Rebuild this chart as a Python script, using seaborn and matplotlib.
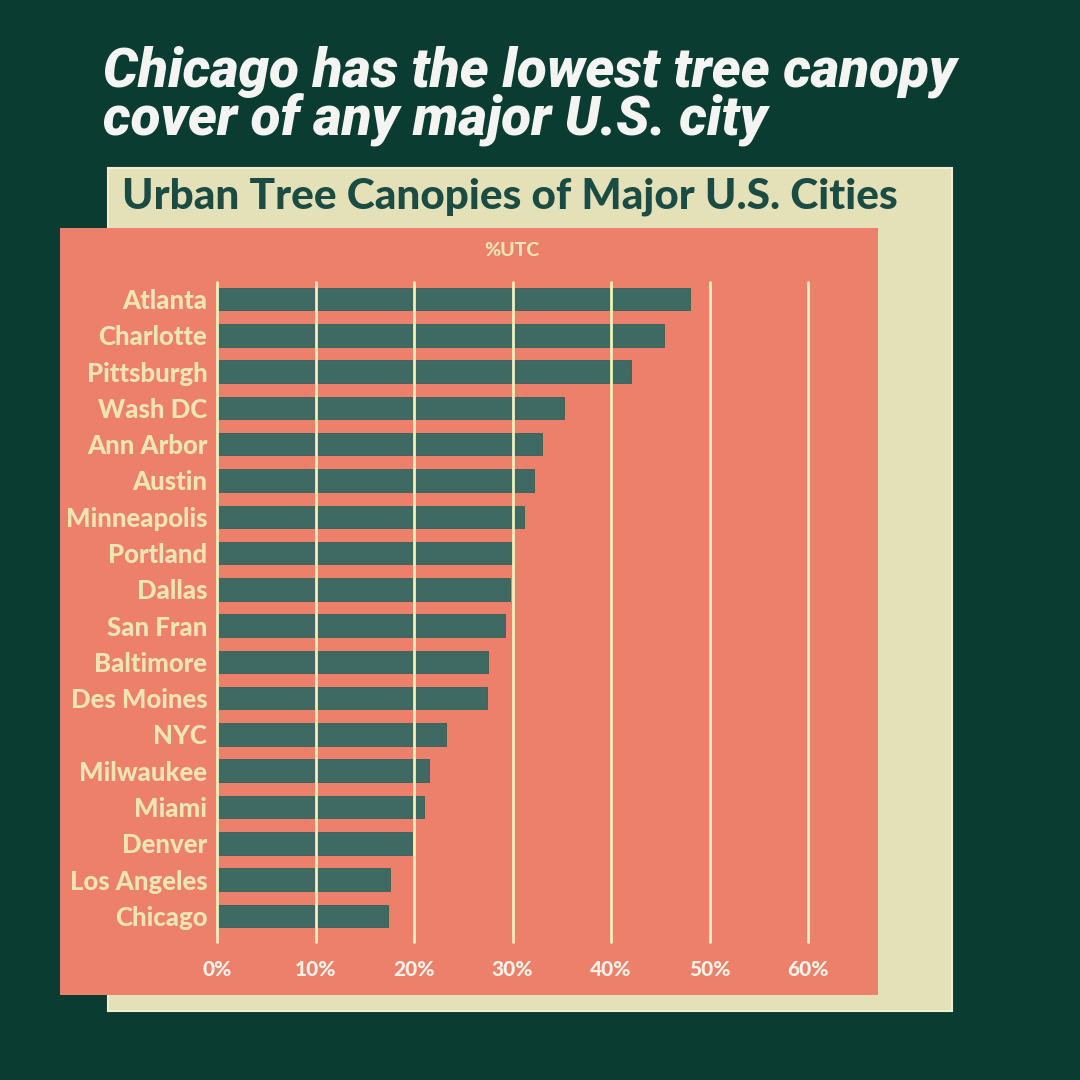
import matplotlib
matplotlib.use("Agg")
import matplotlib.pyplot as plt
from matplotlib.patches import Rectangle
import seaborn as sns
import pandas as pd

cities = ["Atlanta", "Charlotte", "Pittsburgh", "Wash DC", "Ann Arbor", "Austin",
          "Minneapolis", "Portland", "Dallas", "San Fran", "Baltimore", "Des Moines",
          "NYC", "Milwaukee", "Miami", "Denver", "Los Angeles", "Chicago"]
utc = [48.0, 45.4, 42.0, 35.2, 33.0, 32.2, 31.2, 30.0, 29.7, 29.2, 27.5, 27.4,
       23.2, 21.5, 21.0, 19.8, 17.6, 17.4]
x_ticks = [0, 10, 20, 30, 40, 50, 60]
x_tick_labels = ["0%", "10%", "20%", "30%", "40%", "50%", "60%"]

title = "Chicago has the lowest tree canopy\ncover of any major U.S. city"
subtitle = "Urban Tree Canopies of Major U.S. Cities"
axis_label = "%UTC"

BG = "#0b3c32"
CREAM = "#e4e1b8"
SALMON = "#ec806a"
BAR = "#3f6a63"
GRID = "#f3efba"
LABEL = "#ede6b4"
SUB = "#1b4c44"

sns.set_theme(style="white")
plt.rcParams["font.family"] = ["Lato", "DejaVu Sans"]

df = pd.DataFrame({"city": cities, "utc": utc})

W = H = 1080
fig = plt.figure(figsize=(10.8, 10.8), dpi=100, facecolor=BG)

def frect(x0, y0, x1, y1, color, z, ec="none", lw=0):
    fig.patches.append(Rectangle((x0 / W, 1 - y1 / H), (x1 - x0) / W, (y1 - y0) / H,
                                 transform=fig.transFigure, facecolor=color,
                                 edgecolor=ec, linewidth=lw, zorder=z))

frect(108, 168, 952, 1011, CREAM, 0, ec="#f2efd0", lw=1.5)
frect(60, 228, 878, 995, SALMON, 1)

ax = fig.add_axes([217 / W, 1 - 942 / H, (808 - 217) / W, (942 - 282) / H])
ax.set_facecolor("none")
ax.set_zorder(2)

sns.barplot(data=df, y="city", x="utc", orient="h", color=BAR, width=0.62,
            saturation=1, ax=ax, zorder=3)
for p in ax.patches:
    p.set_edgecolor("#35605a")
    p.set_linewidth(0.6)

ax.set_xlim(0, 60)
ax.set_ylim(len(cities) - 0.28, -0.47)
for xv in x_ticks:
    ax.axvline(xv, color=GRID, lw=2, zorder=4 if xv < 50 else 2, clip_on=False)
for s in ax.spines.values():
    s.set_visible(False)

ax.set_xticks(x_ticks)
ax.set_xticklabels(x_tick_labels, fontsize=15, fontweight="black", color="#f6f3ea")
ax.tick_params(axis="x", length=0, pad=13)
ax.tick_params(axis="y", length=0, pad=7)
for lbl in ax.get_yticklabels():
    lbl.set_fontsize(18.5)
    lbl.set_fontweight("black")
    lbl.set_color(LABEL)
ax.set_xlabel("")
ax.set_ylabel("")

fig.text(103 / W, 1 - 46 / H, title, ha="left", va="top", fontsize=39.5,
         fontweight="black", fontstyle="italic", color="#f4f4f2",
         family=["Roboto", "DejaVu Sans"], linespacing=0.86, zorder=5)
fig.text(122 / W, 1 - 197 / H, subtitle, ha="left", va="center", fontsize=30.5,
         fontweight="black", color=SUB, zorder=5)
fig.text(512 / W, 1 - 250 / H, axis_label, ha="center", va="center", fontsize=14,
         fontweight="black", color=LABEL, zorder=5)

fig.savefig("out.png", dpi=100, facecolor=BG)
